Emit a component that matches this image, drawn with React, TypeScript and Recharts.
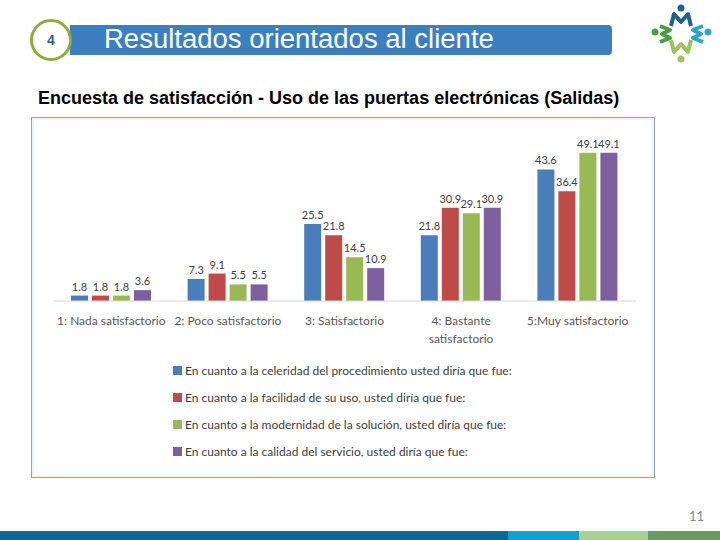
import React from 'react';
import { BarChart, Bar, XAxis, YAxis, LabelList } from 'recharts';

// categories (newline = forced line break in the tick)
const categories = [
  '1: Nada satisfactorio',
  '2: Poco satisfactorio',
  '3: Satisfactorio',
  '4: Bastante\nsatisfactorio',
  '5:Muy satisfactorio',
];

const celeridad = [1.8, 7.3, 25.5, 21.8, 43.6];
const facilidad = [1.8, 9.1, 21.8, 30.9, 36.4];
const modernidad = [1.8, 5.5, 14.5, 29.1, 49.1];
const calidad = [3.6, 5.5, 10.9, 30.9, 49.1];

const seriesNames = [
  'En cuanto a la celeridad del procedimiento usted diría que fue:',
  'En cuanto a la facilidad de su uso, usted diría que fue:',
  'En cuanto a la modernidad de la solución, usted diría que fue:',
  'En cuanto a la calidad del servicio, usted diría que fue:',
];

const seriesColors = ['#4a7ebb', '#be4b48', '#98b954', '#7d5fa0'];

const data = categories.map((name, i) => ({
  name,
  s0: celeridad[i],
  s1: facilidad[i],
  s2: modernidad[i],
  s3: calidad[i],
}));

const FONT = 'Lato, "Open Sans", sans-serif';

function CategoryTick({ x, y, payload }: any) {
  const lines = String(payload.value).split('\n');
  return (
    <text x={x} y={y} textAnchor="middle" fill="#595959" fontSize={12} fontFamily={FONT}>
      {lines.map((ln, i) => (
        <tspan key={i} x={x} dy={i === 0 ? 16 : 18}>
          {ln}
        </tspan>
      ))}
    </text>
  );
}

function SeriesLegend() {
  return (
    <div
      style={{
        position: 'absolute',
        left: 141,
        top: 239,
        fontFamily: FONT,
        fontSize: 12,
        color: '#404040',
        whiteSpace: 'nowrap',
      }}
    >
      {seriesNames.map((nm, i) => (
        <div key={nm} style={{ display: 'flex', alignItems: 'center', height: 27 }}>
          <span style={{ width: 9, height: 9, background: seriesColors[i], marginRight: 3, display: 'inline-block' }} />
          <span>{nm}</span>
        </div>
      ))}
    </div>
  );
}

function Logo() {
  return (
    <svg width={64} height={64} style={{ position: 'absolute', left: 650, top: 2 }} viewBox="0 0 64 64">
      <circle cx={31} cy={6} r={3.5} fill="#1f5f94" />
      <polyline points="21,24 24,12 31,20 38,12 41,24" fill="none" stroke="#1f5f94" strokeWidth={4} strokeLinejoin="round" />
      <circle cx={5} cy={30} r={3.5} fill="#4c9c45" />
      <polyline points="10,24 20,28 12,32 20,36 10,40" fill="none" stroke="#4c9c45" strokeWidth={4} strokeLinejoin="round" />
      <circle cx={58} cy={30} r={3.5} fill="#2da6c9" />
      <polyline points="53,24 43,28 51,32 43,36 53,40" fill="none" stroke="#2da6c9" strokeWidth={4} strokeLinejoin="round" />
      <polyline points="21,38 24,50 31,42 38,50 41,38" fill="none" stroke="#9cc45a" strokeWidth={4} strokeLinejoin="round" />
      <circle cx={31} cy={57} r={3.5} fill="#9cc45a" />
    </svg>
  );
}

export default function App() {
  return (
    <div
      style={{
        position: 'absolute',
        left: 0,
        top: 0,
        width: 720,
        height: 540,
        background: '#ffffff',
        overflow: 'hidden',
        fontFamily: '"Liberation Sans", Arial, sans-serif',
      }}
    >
      {/* header bar */}
      <div
        style={{
          position: 'absolute',
          left: 70,
          top: 25,
          width: 542,
          height: 30,
          background: '#3b7fc0',
          borderRadius: '0 4px 4px 0',
        }}
      />
      <div
        style={{
          position: 'absolute',
          left: 104,
          top: 23,
          color: '#ffffff',
          fontSize: 27.5,
          lineHeight: '32px',
          whiteSpace: 'nowrap',
        }}
      >
        Resultados orientados al cliente
      </div>
      <div
        style={{
          position: 'absolute',
          left: 30,
          top: 19,
          width: 36,
          height: 36,
          borderRadius: '50%',
          border: '3px solid #8fab3c',
          background: '#ffffff',
          color: '#2f5f8f',
          fontWeight: 'bold',
          fontSize: 14,
          display: 'flex',
          alignItems: 'center',
          justifyContent: 'center',
        }}
      >
        4
      </div>
      <Logo />

      <div
        style={{
          position: 'absolute',
          left: 38,
          top: 88,
          fontSize: 18,
          fontWeight: 'bold',
          color: '#000000',
          whiteSpace: 'nowrap',
        }}
      >
        Encuesta de satisfacción - Uso de las puertas electrónicas (Salidas)
      </div>

      {/* chart frame */}
      <div
        style={{
          position: 'absolute',
          left: 31,
          top: 117,
          width: 622,
          height: 359,
          border: '1px solid #8aa6b8',
          boxShadow: 'inset 0 0 0 2px #eef3f6',
        }}
      >
        <BarChart
          width={622}
          height={359}
          data={data}
          margin={{ top: 17, right: 18, left: 21, bottom: 136 }}
          barSize={17}
          barGap={4}
        >
          <XAxis
            dataKey="name"
            interval={0}
            height={40}
            tickLine={false}
            axisLine={{ stroke: '#d9d9d9' }}
            tick={<CategoryTick />}
          />
          <YAxis hide domain={[0, 55]} />
          {seriesNames.map((nm, i) => (
            <Bar key={nm} dataKey={`s${i}`} name={nm} fill={seriesColors[i]} isAnimationActive={false}>
              <LabelList dataKey={`s${i}`} position="top" offset={5} fill="#404040" fontSize={11} fontFamily={FONT} />
            </Bar>
          ))}
        </BarChart>
        <SeriesLegend />
      </div>

      <div style={{ position: 'absolute', left: 689, top: 508, color: '#8c8c8c', fontSize: 13, fontFamily: FONT }}>11</div>

      {/* footer stripes */}
      <div style={{ position: 'absolute', left: 0, top: 531, width: 508, height: 9, background: '#0d6698' }} />
      <div style={{ position: 'absolute', left: 508, top: 531, width: 71, height: 9, background: '#149fcf' }} />
      <div style={{ position: 'absolute', left: 579, top: 531, width: 69, height: 9, background: '#a9d18e' }} />
      <div style={{ position: 'absolute', left: 648, top: 531, width: 72, height: 9, background: '#6a9a62' }} />
    </div>
  );
}
